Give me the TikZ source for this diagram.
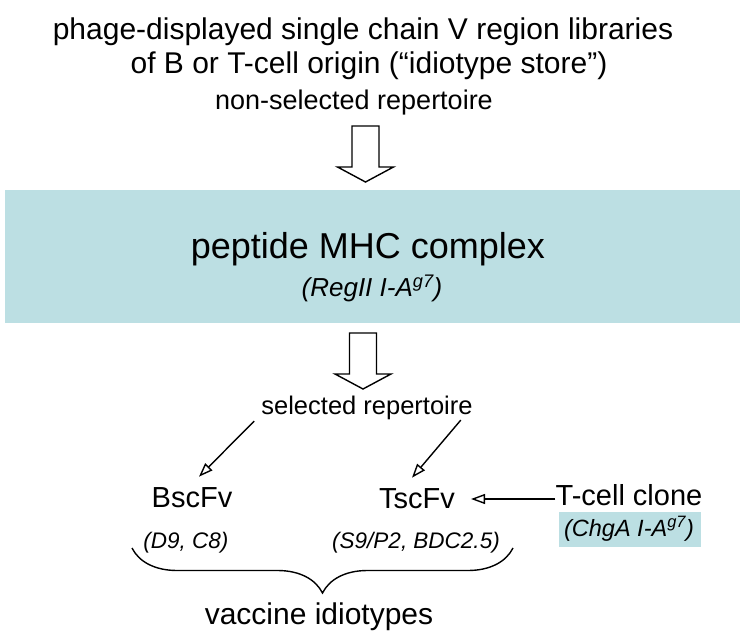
\documentclass[tikz,border=0pt]{standalone}
\usepackage{fontspec}
\setmainfont{Liberation Sans}
\usetikzlibrary{arrows.meta,decorations.pathreplacing}
\definecolor{paleteal}{RGB}{188,223,227}

\begin{document}
\begin{tikzpicture}[x=1pt,y=-1pt,
        txt/.style={inner sep=0pt,font=\fontsize{#1}{#1}\selectfont},
        subtxt/.style={inner sep=0pt,font=\fontsize{#1}{#1}\selectfont\itshape},
        thinarrow/.style={-{Triangle[open,length=14pt,width=10pt]},line width=1.4pt},
        hollowarrow/.pic={\draw[line width=1.4pt,fill=white]
            (-13.5,0) -- (13.5,0) -- (13.5,41) -- (28,41) -- (0,56) -- (-28,41) -- (-13.5,41) -- cycle;}]
        
        \useasboundingbox (0,0) rectangle (745,639);
        
        %top text
        \node[txt=30] (libs) at (363,32) {phage-displayed single chain V region libraries};
        \node[txt=30] (origin) at (369,66) {of B or T-cell origin (“idiotype store”)};
        \node[txt=27] (nonsel) at (354,103) {non-selected repertoire};
        
        %MHC box
        \node[fill=paleteal,minimum width=735pt,minimum height=133pt] (mhc) at (372.5,256.5) {};
        \node[txt=36] (pmhc) at (368,249) {peptide MHC complex};
        \node[subtxt=26] (regii) at (372,288) {(RegII I-A\textsuperscript{g7})};
        
        %block arrows
        \pic at (365.5,126) {hollowarrow};
        \pic at (363,333) {hollowarrow};
        
        \node[txt=25.5] (sel) at (367,408) {selected repertoire};
        
        %scFv
        \node[txt=29] (bscfv) at (192,498) {BscFv};
        \node[txt=29] (tscfv) at (417,499) {TscFv};
        \node[txt=29] (tclone) at (629,495) {T-cell clone};
        \node[fill=paleteal,minimum width=142pt,minimum height=35pt] (chgabox) at (630,529.5) {};
        \node[subtxt=23.5] (chga) at (629,529) {(ChgA I-A\textsuperscript{g7})};
        
        \node[subtxt=22.5] (d9) at (186,543) {(D9, C8)};
        \node[subtxt=22.5] (s9) at (416,543) {(S9/P2, BDC2.5)};
        
        \coordinate (bl) at (132,548);
        \coordinate (br) at (513,548);
        \node[txt=30] (vacc) at (319,617) {vaccine idiotypes};
        
        %arrows
        \draw [thinarrow] ([xshift=-7pt,yshift=-1pt]sel.south west) -- ([xshift=7pt,yshift=11pt]bscfv.north);
        \draw [thinarrow] ([xshift=-12pt]sel.south east) -- ([xshift=-5pt,yshift=11pt]tscfv.north);
        \draw [thinarrow] (tclone.west |- tscfv.east) -- ([xshift=16pt]tscfv.east);
        
        %brace
        \draw [line width=1.4pt,decorate,decoration={brace,mirror,amplitude=45pt}] (bl) -- (br);
        
        \end{tikzpicture}
\end{document}
